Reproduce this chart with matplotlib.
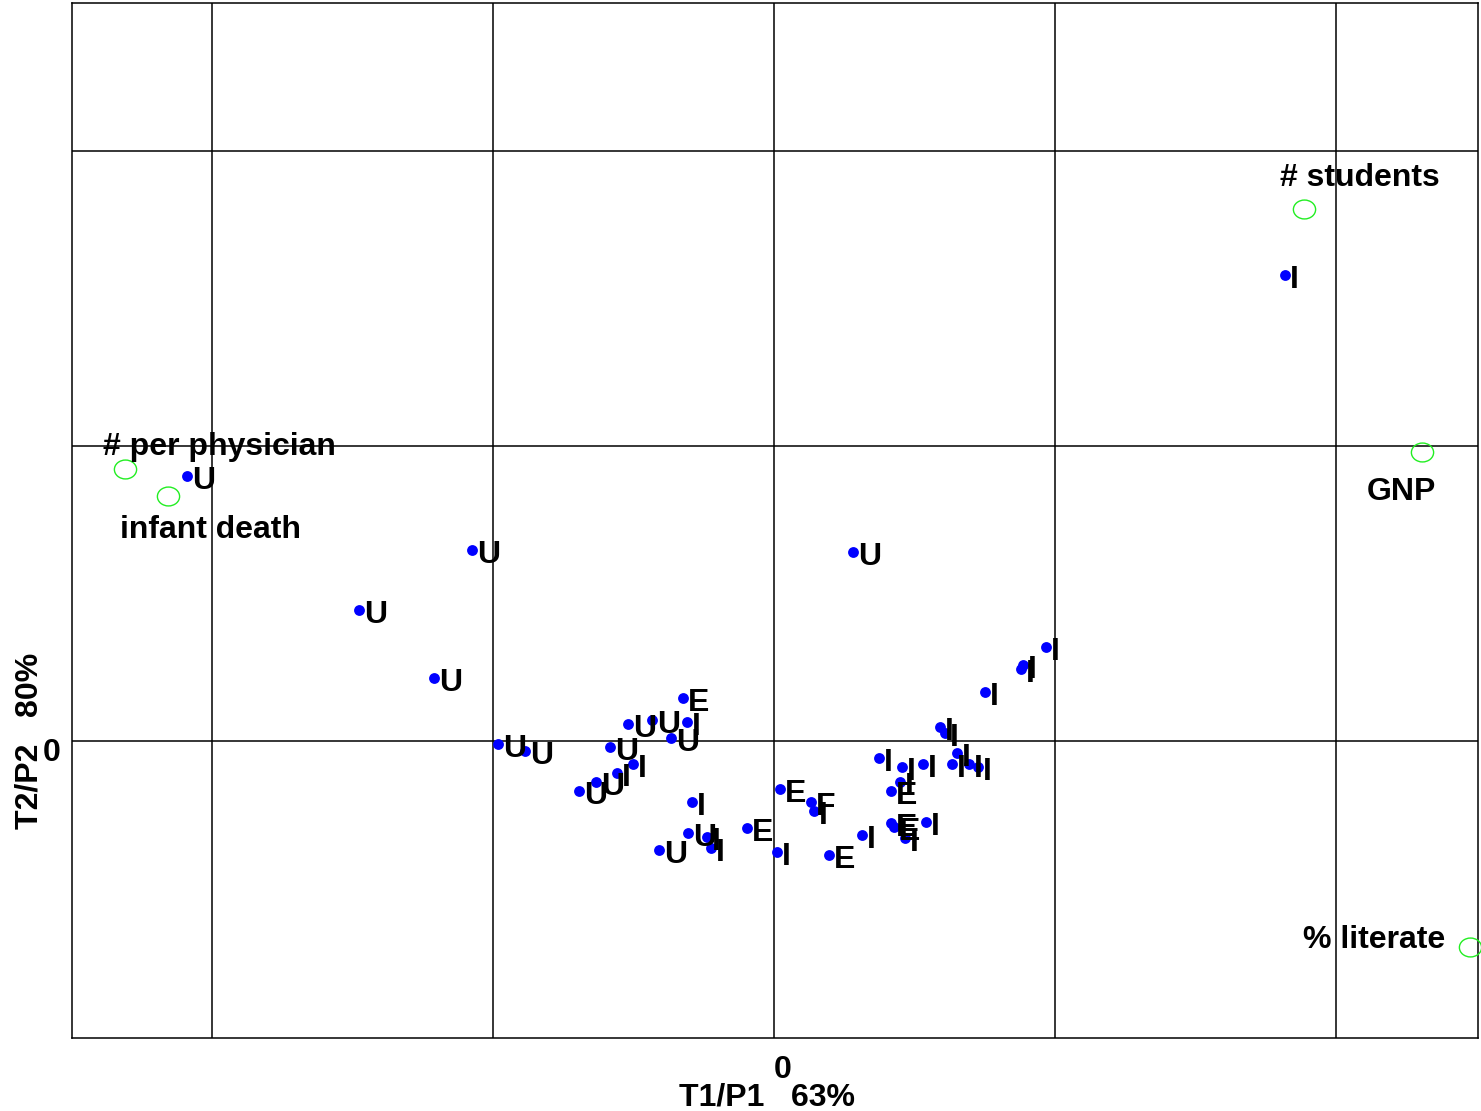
import matplotlib
matplotlib.use("Agg")
import matplotlib.pyplot as plt
from matplotlib.markers import MarkerStyle
from matplotlib.path import Path
from matplotlib.transforms import Affine2D, blended_transform_factory

plt.rcParams["font.family"] = ["Liberation Sans", "DejaVu Sans"]
plt.rcParams["font.weight"] = "bold"

# observations: scores on the first two principal axes, with group letter
obs_x = [-2.089, -1.075, -1.477, -1.210, -0.982, -0.886, -0.694, -0.633, -0.584, -0.559,
         -0.502, -0.520, -0.434, -0.367, -0.310, -0.324, -0.292, -0.306, -0.238, -0.224,
         -0.409, -0.096, 0.021, 0.132, 0.142, 0.011, 0.196, 0.313, 0.281, 1.819,
         0.968, 0.886, 0.879, 0.751, 0.591, 0.609, 0.374, 0.456, 0.530, 0.651,
         0.633, 0.694, 0.726, 0.448, 0.416, 0.416, 0.427, 0.541, 0.466]
obs_y = [0.898, 0.647, 0.444, 0.214, -0.010, -0.034, -0.169, -0.139, -0.020, -0.108,
         -0.078, 0.058, 0.071, 0.010, 0.064, 0.146, -0.207, -0.312, -0.325, -0.363,
         -0.369, -0.295, -0.163, -0.207, -0.237, -0.376, -0.386, -0.319, 0.641, 1.580,
         0.319, 0.258, 0.244, 0.166, 0.047, 0.027, -0.058, -0.088, -0.078, -0.041,
         -0.078, -0.078, -0.088, -0.139, -0.169, -0.278, -0.292, -0.275, -0.329]
obs_lab = ["U", "U", "U", "U", "U", "U", "U", "U", "U", "I",
           "I", "U", "U", "U", "I", "E", "I", "U", "I", "I",
           "U", "E", "E", "F", "I", "I", "E", "I", "U", "I",
           "I", "I", "I", "I", "I", "I", "I", "I", "I", "I",
           "I", "I", "I", "I", "E", "E", "E", "I", "I"]

# variables projected on the same plane
var_names = ["# students", "GNP", "% literate", "# per physician", "infant death"]
var_x = [1.886, 2.306, 2.477, -2.310, -2.157]
var_y = [1.803, 0.980, -0.698, 0.922, 0.831]

grid_x = [-2, -1, 0, 1, 2]
grid_y = [0, 1, 2]

# label placement for the variables: (dx px, dy px, ha)
var_offsets = {
    "# students": (-24, 23, "left"),
    "GNP": (-55, -48, "left"),
    "% literate": (-25, -1, "right"),
    "# per physician": (-22, 14, "left"),
    "infant death": (-48, -42, "left"),
}

fig = plt.figure(figsize=(14.81, 11.11), dpi=100)
ax = fig.add_axes([72 / 1481, 1 - 1038 / 1111, 1406 / 1481, 1035 / 1111])
ax.set_xlim(-2.498, 2.505)
ax.set_ylim(-1.007, 2.502)
ax.set_xticks(grid_x)
ax.set_yticks(grid_y)
ax.tick_params(length=0, labelbottom=False, labelleft=False)
ax.grid(True, color="black", linewidth=1.1)
ax.set_axisbelow(True)
for sp in ax.spines.values():
    sp.set_color("black")
    sp.set_linewidth(1.1)

fs = 23

ax.plot(obs_x, obs_y, "o", color="#0000ff", markersize=7.8, markeredgewidth=0, zorder=3)
for x, y, lab in zip(obs_x, obs_y, obs_lab):
    ax.annotate(lab, (x, y), xytext=(5, -13), textcoords="offset pixels",
                ha="left", va="baseline", fontsize=fs, fontweight="bold", zorder=4)

oval = MarkerStyle(Path.unit_circle().transformed(Affine2D().scale(1, 0.85)))
ax.plot(var_x, var_y, linestyle="none", marker=oval, markersize=16,
        markerfacecolor="none", markeredgecolor="#22ee22", markeredgewidth=1.0,
        zorder=3, clip_on=False)
for name, x, y in zip(var_names, var_x, var_y):
    dx, dy, ha = var_offsets[name]
    ax.annotate(name, (x, y), xytext=(dx, dy), textcoords="offset pixels",
                ha=ha, va="baseline", fontsize=fs, fontweight="bold", zorder=4)

# origin labels and axis titles, centred on the origin as in the original
bx = blended_transform_factory(ax.transData, ax.transAxes)
by = blended_transform_factory(ax.transAxes, ax.transData)
ax.annotate("0", (0, 0), xycoords=bx, xytext=(9, -40), textcoords="offset pixels",
            ha="center", va="baseline", fontsize=fs, fontweight="bold", annotation_clip=False)
ax.annotate("T1/P1   63%", (0, 0), xycoords=bx, xytext=(-7, -68), textcoords="offset pixels",
            ha="center", va="baseline", fontsize=fs, fontweight="bold", annotation_clip=False)
ax.annotate("0", (0, 0), xycoords=by, xytext=(-11, -20), textcoords="offset pixels",
            ha="right", va="baseline", fontsize=fs, fontweight="bold", annotation_clip=False)
ax.annotate("T2/P2   80%", (0, 0), xycoords=by, xytext=(-42, 0), textcoords="offset pixels",
            ha="center", va="center", rotation=90, fontsize=fs, fontweight="bold",
            annotation_clip=False)

fig.savefig("out.png", dpi=100)
